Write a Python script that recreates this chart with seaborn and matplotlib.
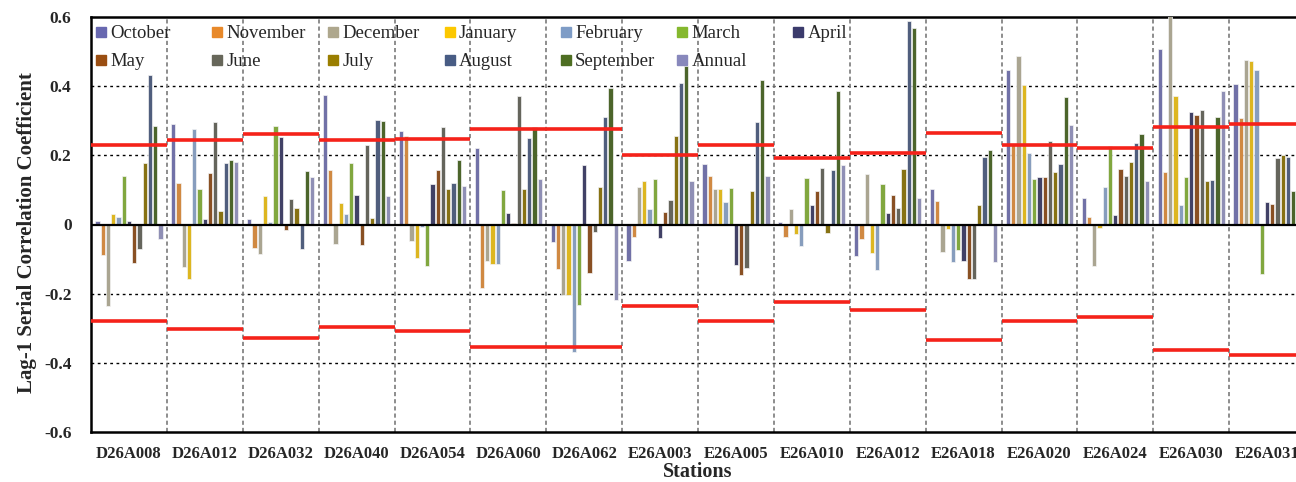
import numpy as np
import pandas as pd
import matplotlib
matplotlib.use("Agg")
import matplotlib.pyplot as plt
import seaborn as sns
from matplotlib.lines import Line2D

stations = ["D26A008", "D26A012", "D26A032", "D26A040", "D26A054", "D26A060",
            "D26A062", "E26A003", "E26A005", "E26A010", "E26A012", "E26A018",
            "E26A020", "E26A024", "E26A030", "E26A031"]

months = ["October", "November", "December", "January", "February", "March",
          "April", "May", "June", "July", "August", "September", "Annual"]

october   = [0.010, 0.291, 0.015, 0.374, 0.271, 0.220, -0.052, -0.106, 0.174, 0.007, -0.091, 0.104, 0.446, 0.076, 0.508, 0.405]
november  = [-0.089, 0.121, -0.067, 0.158, 0.256, -0.184, -0.128, -0.037, 0.140, -0.035, -0.043, 0.068, 0.229, 0.021, 0.151, 0.308]
december  = [-0.237, -0.123, -0.084, -0.055, -0.047, -0.105, -0.204, 0.107, 0.102, 0.044, 0.147, -0.080, 0.486, -0.120, 0.620, 0.475]
january   = [0.030, -0.159, 0.082, 0.062, -0.097, -0.113, -0.204, 0.126, 0.102, -0.027, -0.082, -0.013, 0.403, -0.009, 0.372, 0.472]
february  = [0.023, 0.277, 0.007, 0.031, -0.007, -0.113, -0.369, 0.044, 0.066, -0.062, -0.132, -0.107, 0.206, 0.108, 0.055, 0.447]
march     = [0.139, 0.102, 0.285, 0.178, -0.119, 0.099, -0.233, 0.131, 0.105, 0.135, 0.116, -0.073, 0.131, 0.228, 0.136, -0.142]
april     = [0.010, 0.015, 0.252, 0.086, 0.117, 0.033, 0.173, -0.040, -0.118, 0.056, 0.032, -0.106, 0.136, 0.027, 0.325, 0.064]
may       = [-0.111, 0.149, -0.017, -0.060, 0.157, 0.004, -0.139, 0.036, -0.146, 0.097, 0.085, -0.157, 0.136, 0.161, 0.316, 0.058]
june      = [-0.070, 0.297, 0.073, 0.229, 0.283, 0.371, -0.021, 0.072, -0.126, 0.164, 0.047, -0.157, 0.242, 0.140, 0.331, 0.193]
july      = [0.178, 0.039, 0.048, 0.018, 0.102, 0.103, 0.109, 0.255, 0.098, -0.025, 0.160, 0.056, 0.153, 0.181, 0.125, 0.202]
august    = [0.433, 0.179, -0.071, 0.303, 0.121, 0.250, 0.310, 0.408, 0.296, 0.157, 0.587, 0.196, 0.176, 0.236, 0.130, 0.196]
september = [0.285, 0.186, 0.155, 0.300, 0.186, 0.281, 0.396, 0.457, 0.419, 0.386, 0.569, 0.214, 0.370, 0.262, 0.310, 0.097]
annual    = [-0.043, 0.181, 0.137, 0.083, 0.111, 0.132, -0.217, 0.126, 0.140, 0.172, 0.076, -0.109, 0.288, 0.126, 0.386, 0.150]

# 95% confidence limits of the lag-1 coefficient for each station
upper_limit = [0.229, 0.245, 0.261, 0.243, 0.247, 0.277, 0.277, 0.200, 0.229, 0.193, 0.208, 0.265, 0.229, 0.222, 0.282, 0.291]
lower_limit = [-0.278, -0.301, -0.329, -0.297, -0.307, -0.355, -0.355, -0.235, -0.278, -0.225, -0.246, -0.334, -0.278, -0.267, -0.362, -0.378]

yticks = [-0.6, -0.4, -0.2, 0.0, 0.2, 0.4, 0.6]
ytick_labels = ["-0.6", "-0.4", "-0.2", "0", "0.2", "0.4", "0.6"]

colors = ["#6868B0", "#E8892A", "#AEA78D", "#FCC800", "#7E9CC6", "#85B82E",
          "#3B3B6C", "#9A4E12", "#67675A", "#9A7E00", "#485C84", "#4E6E22",
          "#8888BC"]

series = [october, november, december, january, february, march, april,
          may, june, july, august, september, annual]

df = pd.DataFrame({
    "station": np.tile(stations, len(months)),
    "month": np.repeat(months, len(stations)),
    "r": np.concatenate(series),
})

sns.set_style("white")
plt.rcParams["font.family"] = ["Liberation Serif", "DejaVu Serif"]

W, H = 1296, 482
fig = plt.figure(figsize=(W / 100, H / 100), dpi=100)
ax_left, ax_right, ax_top, ax_bottom = 91, 1305, 17, 432
ax = fig.add_axes([ax_left / W, 1 - ax_bottom / H,
                   (ax_right - ax_left) / W, (ax_bottom - ax_top) / H])

sns.barplot(data=df, x="station", y="r", hue="month", order=stations,
            hue_order=months, palette=colors, width=0.9, gap=0.18,
            edgecolor="#f4f4f4", linewidth=0.5, legend=False, ax=ax,
            zorder=3)

ax.set_xlim(-0.5, len(stations) - 0.5)
ax.set_ylim(-0.6, 0.6)

# dotted horizontal grid and solid zero line
for y in [-0.4, -0.2, 0.2, 0.4]:
    ax.axhline(y, color="black", lw=1.0, ls=(0, (2, 2.5)), zorder=1)
ax.axhline(0, color="black", lw=1.6, zorder=4)

# dashed separators between stations
for i in range(1, len(stations)):
    ax.axvline(i - 0.5, color="#7a7a7a", lw=1.2, ls=(0, (2.5, 1.8)), zorder=2)

# confidence limits per station
xpos = np.arange(len(stations))
ax.hlines(upper_limit, xpos - 0.5, xpos + 0.5, colors="#F5221A", lw=2.6, zorder=5)
ax.hlines(lower_limit, xpos - 0.5, xpos + 0.5, colors="#F5221A", lw=2.6, zorder=5)

ax.set_yticks(yticks)
ax.set_yticklabels(ytick_labels, fontsize=12.5, fontweight="bold")
ax.set_xticks(xpos)
ax.set_xticklabels(stations, fontsize=12, fontweight="bold")
ax.tick_params(axis="both", length=0)
ax.tick_params(axis="y", pad=14)
ax.tick_params(axis="x", pad=10)

ax.set_xlabel("Stations", fontsize=14.5, fontweight="bold")
ax.xaxis.set_label_coords(0.5, -40 / (ax_bottom - ax_top))
ax.xaxis.label.set_va("center")
ax.set_ylabel("Lag-1 Serial Correlation Coefficient", fontsize=15,
              fontweight="bold")
ax.yaxis.set_label_coords(-54 / (ax_right - ax_left), 0.48)

for side in ["left", "bottom", "top"]:
    ax.spines[side].set_visible(True)
    ax.spines[side].set_color("black")
    ax.spines[side].set_linewidth(1.8)
ax.spines["right"].set_visible(False)

# legend laid out as 7 equally spaced columns of two rows
col_step = 116.3
for c in range(7):
    idx = [c, c + 7] if c + 7 < len(months) else [c]
    handles = [Line2D([], [], marker="s", ls="", markersize=7.2,
                      markerfacecolor=colors[k], markeredgecolor=colors[k])
               for k in idx]
    labels = [months[k] for k in idx]
    x0 = (96 + col_step * c - 1) / W
    fig.legend(handles, labels, loc="upper left",
               bbox_to_anchor=(x0, 1 - 25 / H),
               bbox_transform=fig.transFigure, frameon=False,
               fontsize=13.5, handlelength=0.6, handletextpad=0.2,
               labelspacing=0.58, borderpad=0, borderaxespad=0)

fig.savefig("out.png", dpi=100)
